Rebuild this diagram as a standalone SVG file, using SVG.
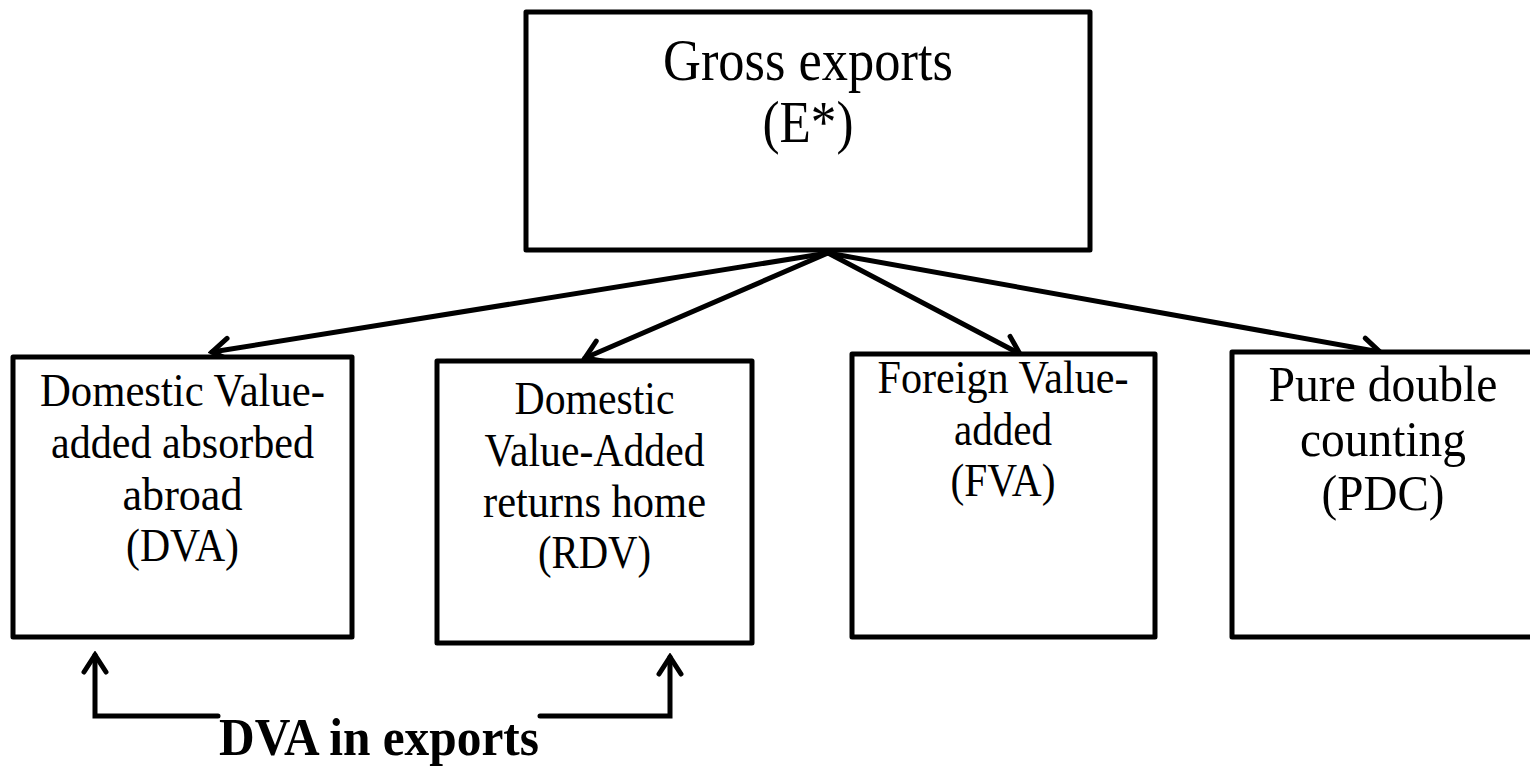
<svg xmlns="http://www.w3.org/2000/svg" width="1530" height="771" viewBox="0 0 1530 771">
<style>
.box{fill:#fff;stroke:#000;stroke-width:5;stroke-linejoin:round}
.t{font-family:"Liberation Serif","Times New Roman",serif;fill:#000;text-anchor:middle}
.conn{fill:none;stroke:#000;stroke-width:5;stroke-linecap:round;stroke-linejoin:miter}
</style>
<defs>
<marker id="ah" viewBox="-24 -14 28 28" refX="0" refY="0" markerWidth="28" markerHeight="28" markerUnits="userSpaceOnUse" orient="auto">
<path d="M-17,-11 L0,0 L-17,11" fill="none" stroke="#000" stroke-width="5" stroke-linecap="round" stroke-linejoin="miter"/>
</marker>
</defs>
<rect width="1530" height="771" fill="#fff"/>
<g id="connectors">
<line class="conn" x1="828" y1="253" x2="212" y2="352" marker-end="url(#ah)"/>
<line class="conn" x1="828" y1="253" x2="585" y2="358" marker-end="url(#ah)"/>
<line class="conn" x1="828" y1="253" x2="1020" y2="354" marker-end="url(#ah)"/>
<line class="conn" x1="828" y1="253" x2="1380" y2="352" marker-end="url(#ah)"/>
<path class="conn" d="M218,716 H95 V655" marker-end="url(#ah)"/>
<path class="conn" d="M540,716 H670 V657" marker-end="url(#ah)"/>
</g>
<g id="gross">
<rect class="box" x="526" y="12" width="564" height="238"/>
<text class="t" font-size="60" x="808" y="80" textLength="290" lengthAdjust="spacingAndGlyphs">Gross exports</text>
<text class="t" font-size="60" x="808" y="142" textLength="91" lengthAdjust="spacingAndGlyphs">(E*)</text>
</g>
<g id="dva">
<rect class="box" x="13" y="357" width="339" height="280"/>
<text class="t" font-size="46" x="182.5" y="406" textLength="285" lengthAdjust="spacingAndGlyphs">Domestic Value-</text>
<text class="t" font-size="46" x="182.5" y="458" textLength="263" lengthAdjust="spacingAndGlyphs">added absorbed</text>
<text class="t" font-size="46" x="182.5" y="510" textLength="120" lengthAdjust="spacingAndGlyphs">abroad</text>
<text class="t" font-size="46" x="182.5" y="561" textLength="113" lengthAdjust="spacingAndGlyphs">(DVA)</text>
</g>
<g id="rdv">
<rect class="box" x="437" y="361" width="315" height="282"/>
<text class="t" font-size="46" x="594.5" y="414" textLength="160" lengthAdjust="spacingAndGlyphs">Domestic</text>
<text class="t" font-size="46" x="594.5" y="466" textLength="220" lengthAdjust="spacingAndGlyphs">Value-Added</text>
<text class="t" font-size="46" x="594.5" y="517" textLength="223" lengthAdjust="spacingAndGlyphs">returns home</text>
<text class="t" font-size="46" x="594.5" y="568" textLength="113" lengthAdjust="spacingAndGlyphs">(RDV)</text>
</g>
<g id="fva">
<rect class="box" x="852" y="354" width="303" height="283"/>
<text class="t" font-size="46" x="1003" y="393" textLength="251" lengthAdjust="spacingAndGlyphs">Foreign Value-</text>
<text class="t" font-size="46" x="1003" y="445" textLength="98" lengthAdjust="spacingAndGlyphs">added</text>
<text class="t" font-size="46" x="1003" y="496" textLength="105" lengthAdjust="spacingAndGlyphs">(FVA)</text>
</g>
<g id="pdc">
<rect class="box" x="1232" y="352" width="310" height="285"/>
<text class="t" font-size="51" x="1383" y="401" textLength="229" lengthAdjust="spacingAndGlyphs">Pure double</text>
<text class="t" font-size="51" x="1383" y="456" textLength="166" lengthAdjust="spacingAndGlyphs">counting</text>
<text class="t" font-size="51" x="1383" y="510" textLength="123" lengthAdjust="spacingAndGlyphs">(PDC)</text>
</g>
<g id="dva-in-exports">
<text class="t" font-size="52" font-weight="bold" x="379" y="755" textLength="320" lengthAdjust="spacingAndGlyphs">DVA in exports</text>
</g>
</svg>
